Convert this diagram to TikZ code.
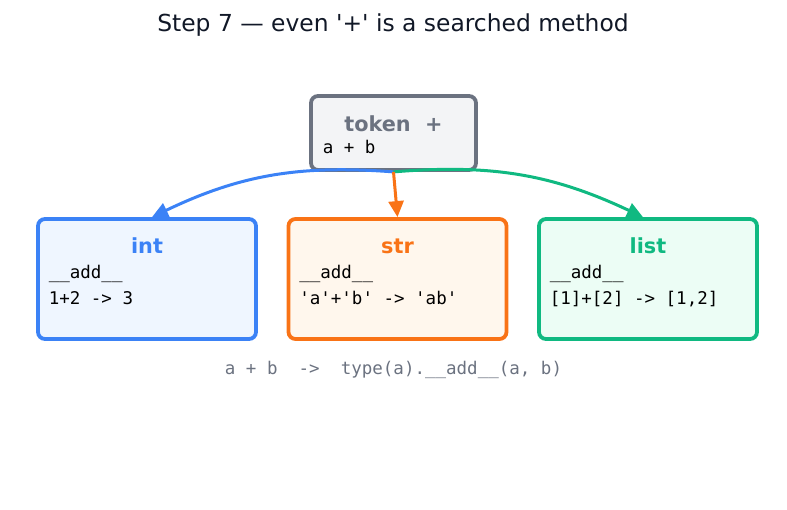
\documentclass[tikz,border=0pt]{standalone}
\usepackage{fontspec}
\setmainfont{DejaVu Sans}
\setmonofont{DejaVu Sans Mono}
\usetikzlibrary{arrows.meta,positioning}

\definecolor{titleink}{HTML}{111827}
\definecolor{grayline}{HTML}{6B7280}
\definecolor{grayfill}{HTML}{F3F4F6}
\definecolor{blueline}{HTML}{3B82F6}
\definecolor{bluefill}{HTML}{EFF6FF}
\definecolor{orangeline}{HTML}{F97316}
\definecolor{orangefill}{HTML}{FFF7ED}
\definecolor{greenline}{HTML}{10B981}
\definecolor{greenfill}{HTML}{ECFDF5}
\definecolor{noteink}{HTML}{6B7280}

\begin{document}
\begin{tikzpicture}[
        x=1pt, y=1pt,
        every node/.style={inner sep=0pt},
        typebox/.style={draw, rounded corners=7pt, line width=3.8pt, minimum width=218pt, minimum height=120pt},
        srcbox/.style={draw=grayline, fill=grayfill, rounded corners=7pt, line width=3.8pt, minimum width=165pt, minimum height=74pt},
        hdr/.style={anchor=base, font=\fontsize{20.8}{24}\selectfont\bfseries},
        code/.style={anchor=base west, font=\fontsize{17.5}{20}\selectfont\ttfamily, text=black},
        arrow/.style={-{Triangle[length=16pt,width=15pt]}, line width=3pt}
    ]
    \useasboundingbox (0,0) rectangle (787,-510);

    % Title
    \node[anchor=base, font=\fontsize{23.4}{27}\selectfont, text=titleink] (title) at (393,-31.5)
    {Step 7 — even \textquotesingle+\textquotesingle\ is a searched method};

    % Token
    \node[srcbox] (token) at (393.5,-133) {};
    \node[hdr, text=grayline] (tokname) at ([yshift=-37]token.north) {token\ \ +};
    \node[code] (tokex) at ([xshift=13.5, yshift=-59.5]token.north west) {a + b};

    % Types
    \node[typebox, draw=blueline, fill=bluefill] (int) at (147,-279) {};
    \node[typebox, draw=orangeline, fill=orangefill] (str) at (397.5,-279) {};
    \node[typebox, draw=greenline, fill=greenfill] (list) at (648,-279) {};

    \node[hdr, text=blueline] (intname) at ([yshift=-36]int.north) {int};
    \node[code] (intm) at ([xshift=12.5, yshift=-61]int.north west) {\_\_add\_\_};
    \node[code] (intex) at ([yshift=-26]intm.base west) {1+2 -> 3};

    \node[hdr, text=orangeline] (strname) at ([yshift=-36]str.north) {str};
    \node[code] (strm) at ([xshift=12.5, yshift=-61]str.north west) {\_\_add\_\_};
    \node[code] (strex) at ([yshift=-26]strm.base west)
    {\textquotesingle a\textquotesingle+\textquotesingle b\textquotesingle\ -> \textquotesingle ab\textquotesingle};

    \node[hdr, text=greenline] (listname) at ([yshift=-36]list.north) {list};
    \node[code] (listm) at ([xshift=12.5, yshift=-61]list.north west) {\_\_add\_\_};
    \node[code] (listex) at ([yshift=-26]listm.base west) {[1]+[2] -> [1,2]};

    % Dispatch arrows
    \draw[arrow, draw=blueline] (token.south) to[bend right=15] ([xshift=5]int.north);
    \draw[arrow, draw=greenline] (token.south) to[bend left=15] ([xshift=-5]list.north);
    \draw[arrow, draw=orangeline] (token.south) -- (str.north);

    % Rule
    \node[code, anchor=base, text=noteink] (rule) at (393.5,-375)
    {a + b\ \ ->\ \ type(a).\_\_add\_\_(a, b)};

\end{tikzpicture}
\end{document}
